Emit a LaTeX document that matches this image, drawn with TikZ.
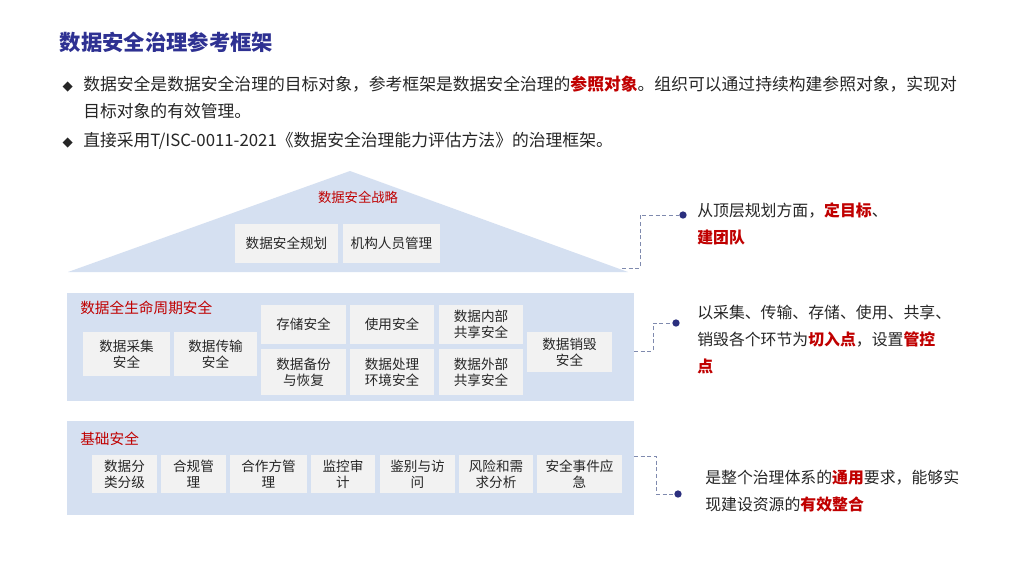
\documentclass[tikz,border=0pt]{standalone}
\usepackage{fontspec}
\setmainfont{Noto Sans CJK SC}
\newfontfamily\sym{DejaVu Sans}
\definecolor{band}{HTML}{D5E0F1}
\definecolor{gbx}{HTML}{F2F2F2}
\definecolor{rd}{HTML}{C00000}
\definecolor{ttl}{HTML}{2E3192}
\definecolor{dotc}{HTML}{2B2F7E}
\definecolor{dashc}{HTML}{7F8AAE}
\definecolor{txt}{HTML}{262626}
\tikzset{
 lbl/.style={font=\fontsize{10.2}{12}\selectfont,text=txt,align=center},
 body/.style={font=\fontsize{11.9}{20.3}\selectfont,text=txt,anchor=north west,align=left,inner sep=0pt},
 conn/.style={draw=dashc,densely dashed,line width=0.7pt},
 dotn/.style={circle,fill=dotc,inner sep=0pt,minimum size=5.5pt}
}
\newcommand{\gbox}[6]{\fill[gbx] (#2,#3) rectangle (#4,#5);
 \node[lbl] (#1) at ({(#2+#4)/2},{(#3+#5)/2}) {#6};}
\begin{document}
\begin{tikzpicture}[x=0.75pt,y=-0.75pt]
\useasboundingbox[fill=white] (0,0) rectangle (1024,576);
\node[anchor=west,font=\bfseries\fontsize{16}{18}\selectfont,text=ttl] (title) at (55,42) {数据安全治理参考框架};
\node[anchor=west,font=\sym\fontsize{10}{10}\selectfont,text=txt] (b1) at (58,87) {◆};
\node[anchor=west,font=\sym\fontsize{10}{10}\selectfont,text=txt] (b2) at (58,143) {◆};
\node[body,font=\fontsize{12.6}{20.3}\selectfont] (t1) at (83,76) {数据安全是数据安全治理的目标对象，参考框架是数据安全治理的\textcolor{rd}{\bfseries 参照对象}。组织可以通过持续构建参照对象，实现对\\目标对象的有效管理。};
\node[body,font=\fontsize{12.6}{20.3}\selectfont] (t2) at (83,132) {直接采用T/ISC-0011-2021《数据安全治理能力评估方法》的治理框架。};
% roof
\fill[band] (350,171) -- (628,272) -- (68,272) -- cycle;
\node[font=\fontsize{10}{11}\selectfont,text=rd] (roof) at (358,197) {数据安全战略};
\gbox{r1}{235}{224}{338}{263}{数据安全规划}
\gbox{r2}{343}{224}{440}{263}{机构人员管理}
% middle band
\fill[band] (67,293) rectangle (634,401);
\node[anchor=west,font=\fontsize{11}{12}\selectfont,text=rd,inner sep=0pt] (mid) at (80,308) {数据全生命周期安全};
\gbox{m1}{83}{332}{170}{376}{数据采集\\安全}
\gbox{m2}{174}{332}{257}{376}{数据传输\\安全}
\gbox{m3}{261}{305}{346}{344}{存储安全}
\gbox{m4}{350}{305}{434}{344}{使用安全}
\gbox{m5}{439}{305}{523}{344}{数据内部\\共享安全}
\gbox{m6}{261}{349}{346}{395}{数据备份\\与恢复}
\gbox{m7}{350}{349}{434}{395}{数据处理\\环境安全}
\gbox{m8}{439}{349}{523}{395}{数据外部\\共享安全}
\gbox{m9}{527}{332}{612}{372}{数据销毁\\安全}
% bottom band
\fill[band] (67,421) rectangle (634,515);
\node[anchor=west,font=\fontsize{11}{12}\selectfont,text=rd,inner sep=0pt] (base) at (80,439) {基础安全};
\gbox{f1}{92}{455}{157}{493}{数据分\\类分级}
\gbox{f2}{161}{455}{226}{493}{合规管\\理}
\gbox{f3}{230}{455}{307}{493}{合作方管\\理}
\gbox{f4}{311}{455}{375}{493}{监控审\\计}
\gbox{f5}{380}{455}{455}{493}{鉴别与访\\问}
\gbox{f6}{459}{455}{533}{493}{风险和需\\求分析}
\gbox{f7}{537}{455}{622}{493}{安全事件应\\急}
% connectors
\coordinate (c1) at (622,268);
\node[dotn] (d1) at (683,215) {};
\draw[conn] (c1) -- (640,268) -- (640,215) -- (d1);
\coordinate (c2) at (634,351);
\node[dotn] (d2) at (676,323) {};
\draw[conn] (c2) -- (653,351) -- (653,323) -- (d2);
\coordinate (c3) at (634,456);
\node[dotn] (d3) at (678,494) {};
\draw[conn] (c3) -- (656,456) -- (656,494) -- (d3);
% right texts
\node[body] (n1) at (697,202) {从顶层规划方面，\textcolor{rd}{\bfseries 定目标}、\\\textcolor{rd}{\bfseries 建团队}};
\node[body] (n2) at (697,305) {以采集、传输、存储、使用、共享、\\销毁各个环节为\textcolor{rd}{\bfseries 切入点}，设置\textcolor{rd}{\bfseries 管控}\\\textcolor{rd}{\bfseries 点}};
\node[body] (n3) at (705,470) {是整个治理体系的\textcolor{rd}{\bfseries 通用}要求，能够实\\现建设资源的\textcolor{rd}{\bfseries 有效整合}};
\end{tikzpicture}
\end{document}
